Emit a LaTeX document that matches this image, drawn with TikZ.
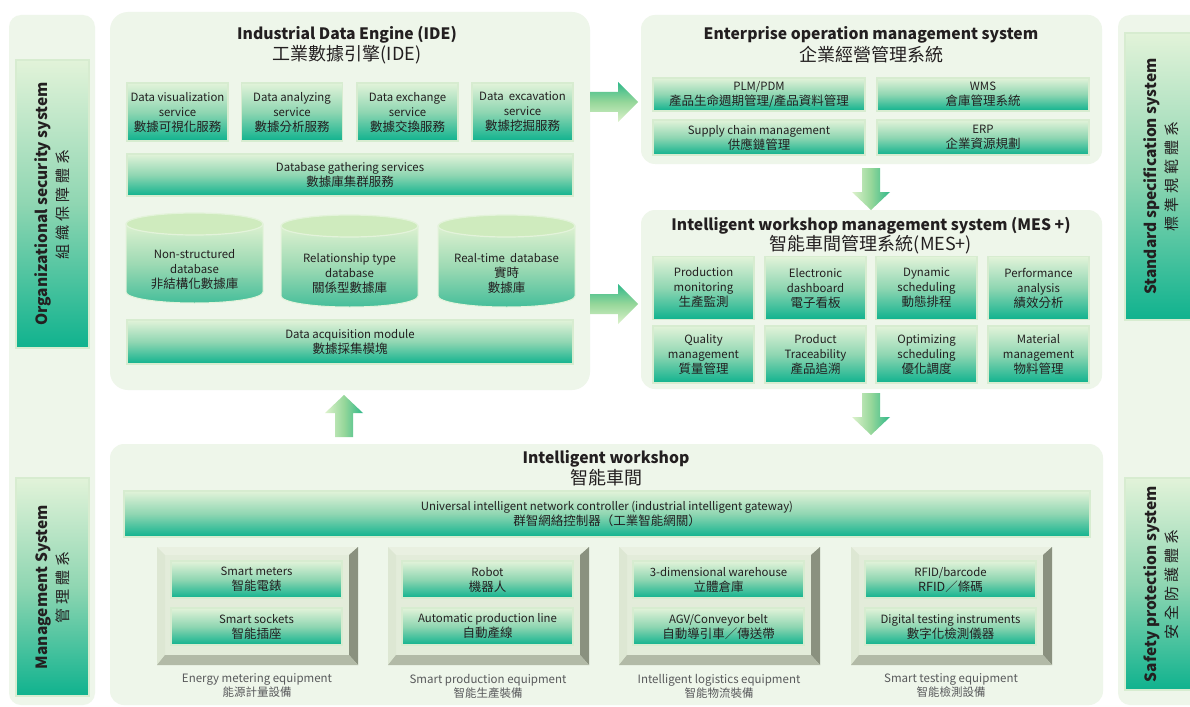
\documentclass[tikz,border=0pt]{standalone}
\usepackage{fontspec}
\setmainfont{Noto Sans CJK TC}
\definecolor{panel}{HTML}{EEF6EA}
\definecolor{gtop}{HTML}{E2F3D9}
\definecolor{gmid}{HTML}{8FD6B2}
\definecolor{gbot}{HTML}{0FB28E}
\definecolor{gedge}{HTML}{D7ECD0}
\definecolor{ink}{HTML}{231F20}
\definecolor{labgray}{HTML}{58595B}
\definecolor{bvtop}{HTML}{E9F0E1}
\definecolor{bvleft}{HTML}{DDE7D3}
\definecolor{bvright}{HTML}{8A917F}
\definecolor{bvbot}{HTML}{B2BAA7}
\definecolor{bvface}{HTML}{E3ECDA}
\definecolor{cyltop}{HTML}{DDF1D0}
\definecolor{cylmid}{HTML}{9EDAB4}
\definecolor{cylbot}{HTML}{45BE9A}
\definecolor{cylcap}{HTML}{CFEBBE}
\definecolor{cylrim}{HTML}{E3F3DA}
\definecolor{arlight}{HTML}{DDF2CC}
\definecolor{armid}{HTML}{96D79A}
\definecolor{arteal}{HTML}{2FB88A}
\newcommand\bodyf{\fontsize{11.4pt}{15pt}\selectfont}
\newcommand\zh[1]{{\fontsize{12.5pt}{15pt}\selectfont #1}}
\newcommand\titlef{\fontsize{15.7pt}{18pt}\selectfont\bfseries}
\newcommand\titlezh{\fontsize{18pt}{20pt}\selectfont}
\newcommand\labf{\fontsize{11.5pt}{14pt}\selectfont}
\newcommand\sidef{\fontsize{15.5pt}{18pt}\selectfont\bfseries}
\newcommand\sidezh{\fontsize{15pt}{17pt}\selectfont}
\tikzset{
  panelbox/.style={rectangle, fill=panel, rounded corners=14pt, inner sep=0pt},
  gbox/.style={rectangle, draw=gedge, line width=1.2pt, top color=gtop, bottom color=gbot, middle color=gmid, inner sep=0pt, align=center, text=ink, font=\bodyf},
  ttl/.style={font=\titlef, text=ink, inner sep=0pt},
  ttlzh/.style={font=\titlezh, text=ink, inner sep=0pt},
  lab/.style={align=center, text=labgray, font=\labf, inner sep=0pt},
  sidetxt/.style={rotate=90, text=ink, inner sep=0pt, font=\sidef},
  sidetxtzh/.style={rotate=90, text=ink, inner sep=0pt, font=\sidezh},
  blockarrowh/.style={top color=arteal, bottom color=arlight, middle color=armid},
  blockarrowv/.style={left color=arlight, right color=arteal, middle color=armid},
}
\newcommand\zsp{\hspace{4pt}}
\newcommand\equipgroup[5]{%
  \fill[bvface] (#1,547) rectangle (#1+201,665);
  \fill[bvtop] (#1,547) -- (#1+201,547) -- (#1+192,555) -- (#1+8,555) -- cycle;
  \fill[bvleft] (#1,547) -- (#1+8,555) -- (#1+8,655) -- (#1,665) -- cycle;
  \fill[bvright] (#1+201,547) -- (#1+201,665) -- (#1+192,655) -- (#1+192,555) -- cycle;
  \fill[bvbot] (#1,665) -- (#1+201,665) -- (#1+192,655) -- (#1+8,655) -- cycle;
  \node[gbox, minimum width=171pt, minimum height=37pt] (#2a) at (#1+99.5,579.5) {#3};
  \node[gbox, minimum width=171pt, minimum height=37pt] (#2b) at (#1+99.5,626.5) {#4};
  \node[lab] (#2l) at (#1+100,686) {#5};
}
\newcommand\dbcyl[6]{%
  \pgfmathsetmacro\cxc{(#2+#3)/2}
  \pgfmathsetmacro\crx{(#3-#2)/2}
  \path[top color=cyltop, bottom color=cylbot, middle color=cylmid, draw=cylrim, line width=1pt]
    (#2,#4) -- (#2,#5) .. controls (#2,#5+6.1) and (\cxc-0.5523*\crx,#5+11) .. (\cxc,#5+11)
    .. controls (\cxc+0.5523*\crx,#5+11) and (#3,#5+6.1) .. (#3,#5) -- (#3,#4) -- cycle;
  \path[fill=cylcap, draw=cylrim, line width=1.2pt] (\cxc,#4) ellipse [x radius=\crx pt, y radius=11pt];
  \node[align=center, text=ink, font=\bodyf, inner sep=0pt] (#1) at (\cxc,{(#4+#5)/2+12}) {#6};
}
\begin{document}
\begin{tikzpicture}[x=1pt,y=-1pt]
\path[use as bounding box, fill=white] (0,0) rectangle (1190,706);

% panels
\node[panelbox, rounded corners=12pt, minimum width=86pt, minimum height=690pt] (leftP) at (52,360) {};
\node[panelbox, rounded corners=12pt, minimum width=92pt, minimum height=690pt] (rightP) at (1164,360) {};
\node[panelbox, rounded corners=18pt, minimum width=480pt, minimum height=378pt] (ideP) at (350,201) {};
\node[panelbox, minimum width=461pt, minimum height=149pt] (entP) at (871.5,89.5) {};
\node[panelbox, minimum width=461pt, minimum height=179pt] (mesP) at (871.5,299.5) {};
\node[panelbox, minimum width=993pt, minimum height=261pt] (wsP) at (606.5,574.5) {};

% side boxes
\node[gbox, minimum width=73pt, minimum height=288pt] (leftA) at (52.5,204) {};
\node[sidetxt] (leftAt) at (43,204) {Organizational security system};
\node[sidetxtzh] (leftAz) at (63,204) {組\zsp 織\zsp 保\zsp 障\zsp 體\zsp 系};
\node[gbox, minimum width=73pt, minimum height=218pt] (leftB) at (52.5,587) {};
\node[sidetxt] (leftBt) at (43,587) {Management System};
\node[sidetxtzh] (leftBz) at (63,587) {管\zsp 理\zsp 體\zsp 系};
\node[gbox, minimum width=71pt, minimum height=287pt] (rightA) at (1160.5,176.5) {};
\node[sidetxt] (rightAt) at (1152,176.5) {Standard specification system};
\node[sidetxtzh] (rightAz) at (1172,176.5) {標\zsp 準\zsp 規\zsp 範\zsp 體\zsp 系};
\node[gbox, minimum width=71pt, minimum height=212pt] (rightB) at (1160.5,584) {};
\node[sidetxt] (rightBt) at (1152,584) {Safety protection system};
\node[sidetxtzh] (rightBz) at (1172,584) {安\zsp 全\zsp 防\zsp 護\zsp 體\zsp 系};

% IDE
\node[ttl] (ideT) at (347,35) {Industrial Data Engine (IDE)};
\node[ttlzh] (ideZ) at (347,55) {工業數據引擎(IDE)};
\node[gbox, minimum width=101pt, minimum height=58pt] (s1) at (177.5,112) {Data visualization\\service\\\zh{數據可視化服務}};
\node[gbox, minimum width=101pt, minimum height=58pt] (s2) at (292,112) {Data analyzing\\service\\\zh{數據分析服務}};
\node[gbox, minimum width=101pt, minimum height=58pt] (s3) at (407.5,112) {Data exchange\\service\\\zh{數據交換服務}};
\node[gbox, minimum width=101pt, minimum height=58pt] (s4) at (522.5,112) {Data\ \ excavation\\service\\\zh{數據挖掘服務}};
\node[gbox, minimum width=446pt, minimum height=42pt] (dbg) at (350,175) {Database gathering services\\\zh{數據庫集群服務}};
\dbcyl{c1}{126}{263}{224}{292}{Non-structured\\database\\\zh{非結構化數據庫}}
\dbcyl{c2}{281}{418}{226}{296}{Relationship type\\database\\\zh{關係型數據庫}}
\dbcyl{c3}{438}{575}{226}{296}{Real-time\ \ database\\\zh{實時}\\\zh{數據庫}}
\node[gbox, minimum width=446pt, minimum height=44pt] (daq) at (350,342) {Data acquisition module\\\zh{數據採集模塊}};

% Enterprise
\node[ttl] (entT) at (871,35) {Enterprise operation management system};
\node[ttlzh] (entZ) at (871,55) {企業經營管理系統};
\node[gbox, minimum width=212pt, minimum height=33pt] (plm) at (759,94.5) {PLM/PDM\\\zh{產品生命週期管理/產品資料管理}};
\node[gbox, minimum width=212pt, minimum height=33pt] (wms) at (983,94.5) {WMS\\\zh{倉庫管理系統}};
\node[gbox, minimum width=212pt, minimum height=35pt] (scm) at (759,137.5) {Supply chain management\\\zh{供應鏈管理}};
\node[gbox, minimum width=212pt, minimum height=35pt] (erp) at (983,137.5) {ERP\\\zh{企業資源規劃}};

% MES
\node[ttl] (mesT) at (871,226) {Intelligent workshop management system (MES +)};
\node[ttlzh] (mesZ) at (871,245) {智能車間管理系統(MES+)};
\node[gbox, minimum width=101pt, minimum height=63pt] (m1) at (703.5,288) {Production\\monitoring\\\zh{生產監測}};
\node[gbox, minimum width=101pt, minimum height=63pt] (m2) at (815.5,288) {Electronic\\dashboard\\\zh{電子看板}};
\node[gbox, minimum width=101pt, minimum height=63pt] (m3) at (926.5,288) {Dynamic\\scheduling\\\zh{動態排程}};
\node[gbox, minimum width=101pt, minimum height=63pt] (m4) at (1038.5,288) {Performance\\analysis\\\zh{績效分析}};
\node[gbox, minimum width=101pt, minimum height=57pt] (m5) at (703.5,354.5) {Quality\\management\\\zh{質量管理}};
\node[gbox, minimum width=101pt, minimum height=57pt] (m6) at (815.5,354.5) {Product\\Traceability\\\zh{產品追溯}};
\node[gbox, minimum width=101pt, minimum height=57pt] (m7) at (926.5,354.5) {Optimizing\\scheduling\\\zh{優化調度}};
\node[gbox, minimum width=101pt, minimum height=57pt] (m8) at (1038.5,354.5) {Material\\management\\\zh{物料管理}};

% Workshop
\node[ttl] (wsT) at (606,459) {Intelligent workshop};
\node[ttlzh] (wsZ) at (606,478) {智能車間};
\node[gbox, minimum width=966pt, minimum height=46pt] (gw) at (607,514) {Universal intelligent network controller (industrial intelligent gateway)\\\zh{群智網絡控制器（工業智能網關）}};
\equipgroup{157}{ga}{Smart meters\\\zh{智能電錶}}{Smart sockets\\\zh{智能插座}}{Energy metering equipment\\能源計量設備}
\equipgroup{388}{gb}{Robot\\\zh{機器人}}{Automatic production line\\\zh{自動產線}}{Smart production equipment\\智能生產裝備}
\equipgroup{619}{gc}{3-dimensional warehouse\\\zh{立體倉庫}}{AGV/Conveyor belt\\\zh{自動導引車／傳送帶}}{Intelligent logistics equipment\\智能物流裝備}
\equipgroup{851}{gd}{RFID/barcode\\\zh{RFID／條碼}}{Digital testing instruments\\\zh{數字化檢測儀器}}{Smart testing equipment\\智能檢測設備}

% block arrows
\path[blockarrowh] (590,92) -- (618,92) -- (618,82) -- (638,102) -- (618,122) -- (618,112) -- (590,112) -- cycle;
\path[blockarrowh] (590,294) -- (618,294) -- (618,284) -- (638,304) -- (618,324) -- (618,314) -- (590,314) -- cycle;
\path[blockarrowv] (335,437) -- (335,413) -- (325,413) -- (344,395) -- (363,413) -- (353,413) -- (353,437) -- cycle;
\path[blockarrowv] (862,168) -- (880,168) -- (880,192) -- (890,192) -- (871,210) -- (852,192) -- (862,192) -- cycle;
\path[blockarrowv] (862,393) -- (880,393) -- (880,417) -- (890,417) -- (871,435) -- (852,417) -- (862,417) -- cycle;
\end{tikzpicture}
\end{document}
